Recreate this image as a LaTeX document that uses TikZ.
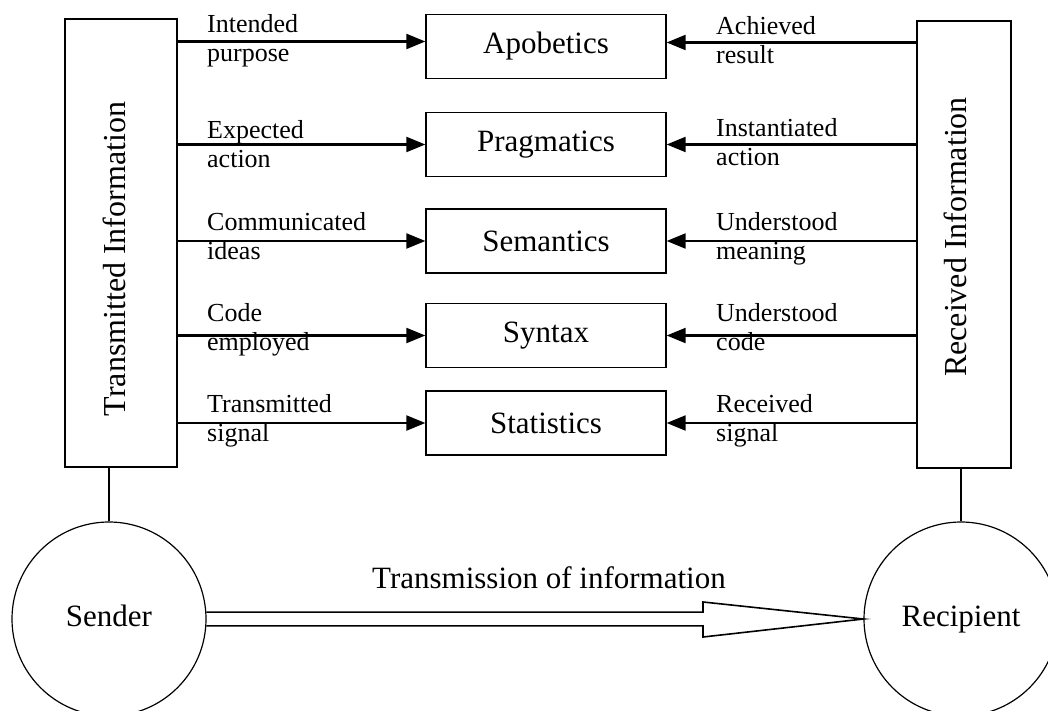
\documentclass[tikz,border=0pt]{standalone}
\usepackage{fontspec}
\setmainfont{Liberation Serif}
\usetikzlibrary{arrows.meta}
\begin{document}
\begin{tikzpicture}[x=1pt,y=-1pt,
  frame/.style={draw, line width=1.3pt, inner sep=0pt},
  layer/.style={frame, minimum width=240pt, minimum height=64pt,
    font=\fontsize{31}{36}\selectfont},
  party/.style={draw, circle, line width=1.2pt, minimum size=194pt,
    inner sep=0pt, text height=22pt, text depth=7pt,
    font=\fontsize{31}{36}\selectfont},
  side/.style={rotate=90, inner sep=0pt, font=\fontsize{32}{36}\selectfont},
  tag/.style={align=left, inner sep=0pt, font=\fontsize{26}{29}\selectfont},
  flow/.style={line width=2.2pt, -{Triangle[length=19pt,width=15pt]}},
  link/.style={line width=1.3pt}]
\useasboundingbox (0,0) rectangle (1048,711);

% sender and receiver columns
\node[frame, minimum width=112pt, minimum height=448pt] (tx) at (121,243) {};
\node[frame, minimum width=94pt, minimum height=447pt] (rx) at (964,244.5) {};
\node[side] (txlabel) at (114,259) {Transmitted Information};
\node[side] (rxlabel) at (955,237) {Received Information};

% the five levels of information
\node[layer] (apo) at (546,46.5) {Apobetics};
\node[layer] (prag) at (546,144.5) {Pragmatics};
\node[layer] (sem) at (546,241) {Semantics};
\node[layer] (syn) at (546,335.5) {Syntax};
\node[layer] (stat) at (546,423) {Statistics};

% flows into the top level run a little above its middle
\coordinate (apoin) at ([yshift=5pt]apo.west);
\coordinate (apoback) at ([yshift=4pt]apo.east);
\draw[flow] (tx.east |- apoin) -- (apoin);
\draw[flow] (rx.west |- apoback) -- (apoback);
% flows from the sender side
\foreach \lv in {prag,sem,syn,stat}
  \draw[flow] (tx.east |- \lv.west) -- (\lv.west);
% flows from the receiver side
\foreach \lv in {prag,sem,syn,stat}
  \draw[flow] (rx.west |- \lv.east) -- (\lv.east);

% labels on the sender side (placed by the baseline of their second line)
\node[tag, anchor=base west] (t1) at (207,62) {Intended\\purpose};
\node[tag, anchor=base west] (t2) at (207,168) {Expected\\action};
\node[tag, anchor=base west] (t3) at (207,259) {Communicated\\ideas};
\node[tag, anchor=base west] (t4) at (207,350) {Code\\employed};
\node[tag, anchor=base west] (t5) at (207,441) {Transmitted\\signal};

% labels on the receiver side
\node[tag, anchor=base west] (r1) at (716,64) {Achieved\\result};
\node[tag, anchor=base west] (r2) at (716,166) {Instantiated\\action};
\node[tag, anchor=base west] (r3) at (716,259) {Understood\\meaning};
\node[tag, anchor=base west] (r4) at (716,350) {Understood\\code};
\node[tag, anchor=base west] (r5) at (716,441) {Received\\signal};

% sender and recipient
\node[party] (snd) at (109,619) {Sender};
\node[party] (rcp) at (961,619) {Recipient};
\draw[link] (snd.north) -- (snd.north |- tx.south);
\draw[link] (rcp.north) -- (rcp.north |- rx.south);

% hollow transmission arrow
\coordinate (headtop) at (703,602);
\coordinate (headbot) at (703,637);
\draw[line width=1.6pt, line join=miter]
  (snd.4.7) -- (snd.4.7 -| headtop) -- (headtop) -- (rcp.west)
  -- (headbot) -- (snd.-4.7 -| headbot) -- (snd.-4.7);
\node[anchor=base, font=\fontsize{31}{36}\selectfont] (txn) at (549,588)
  {Transmission of information};
\end{tikzpicture}
\end{document}
